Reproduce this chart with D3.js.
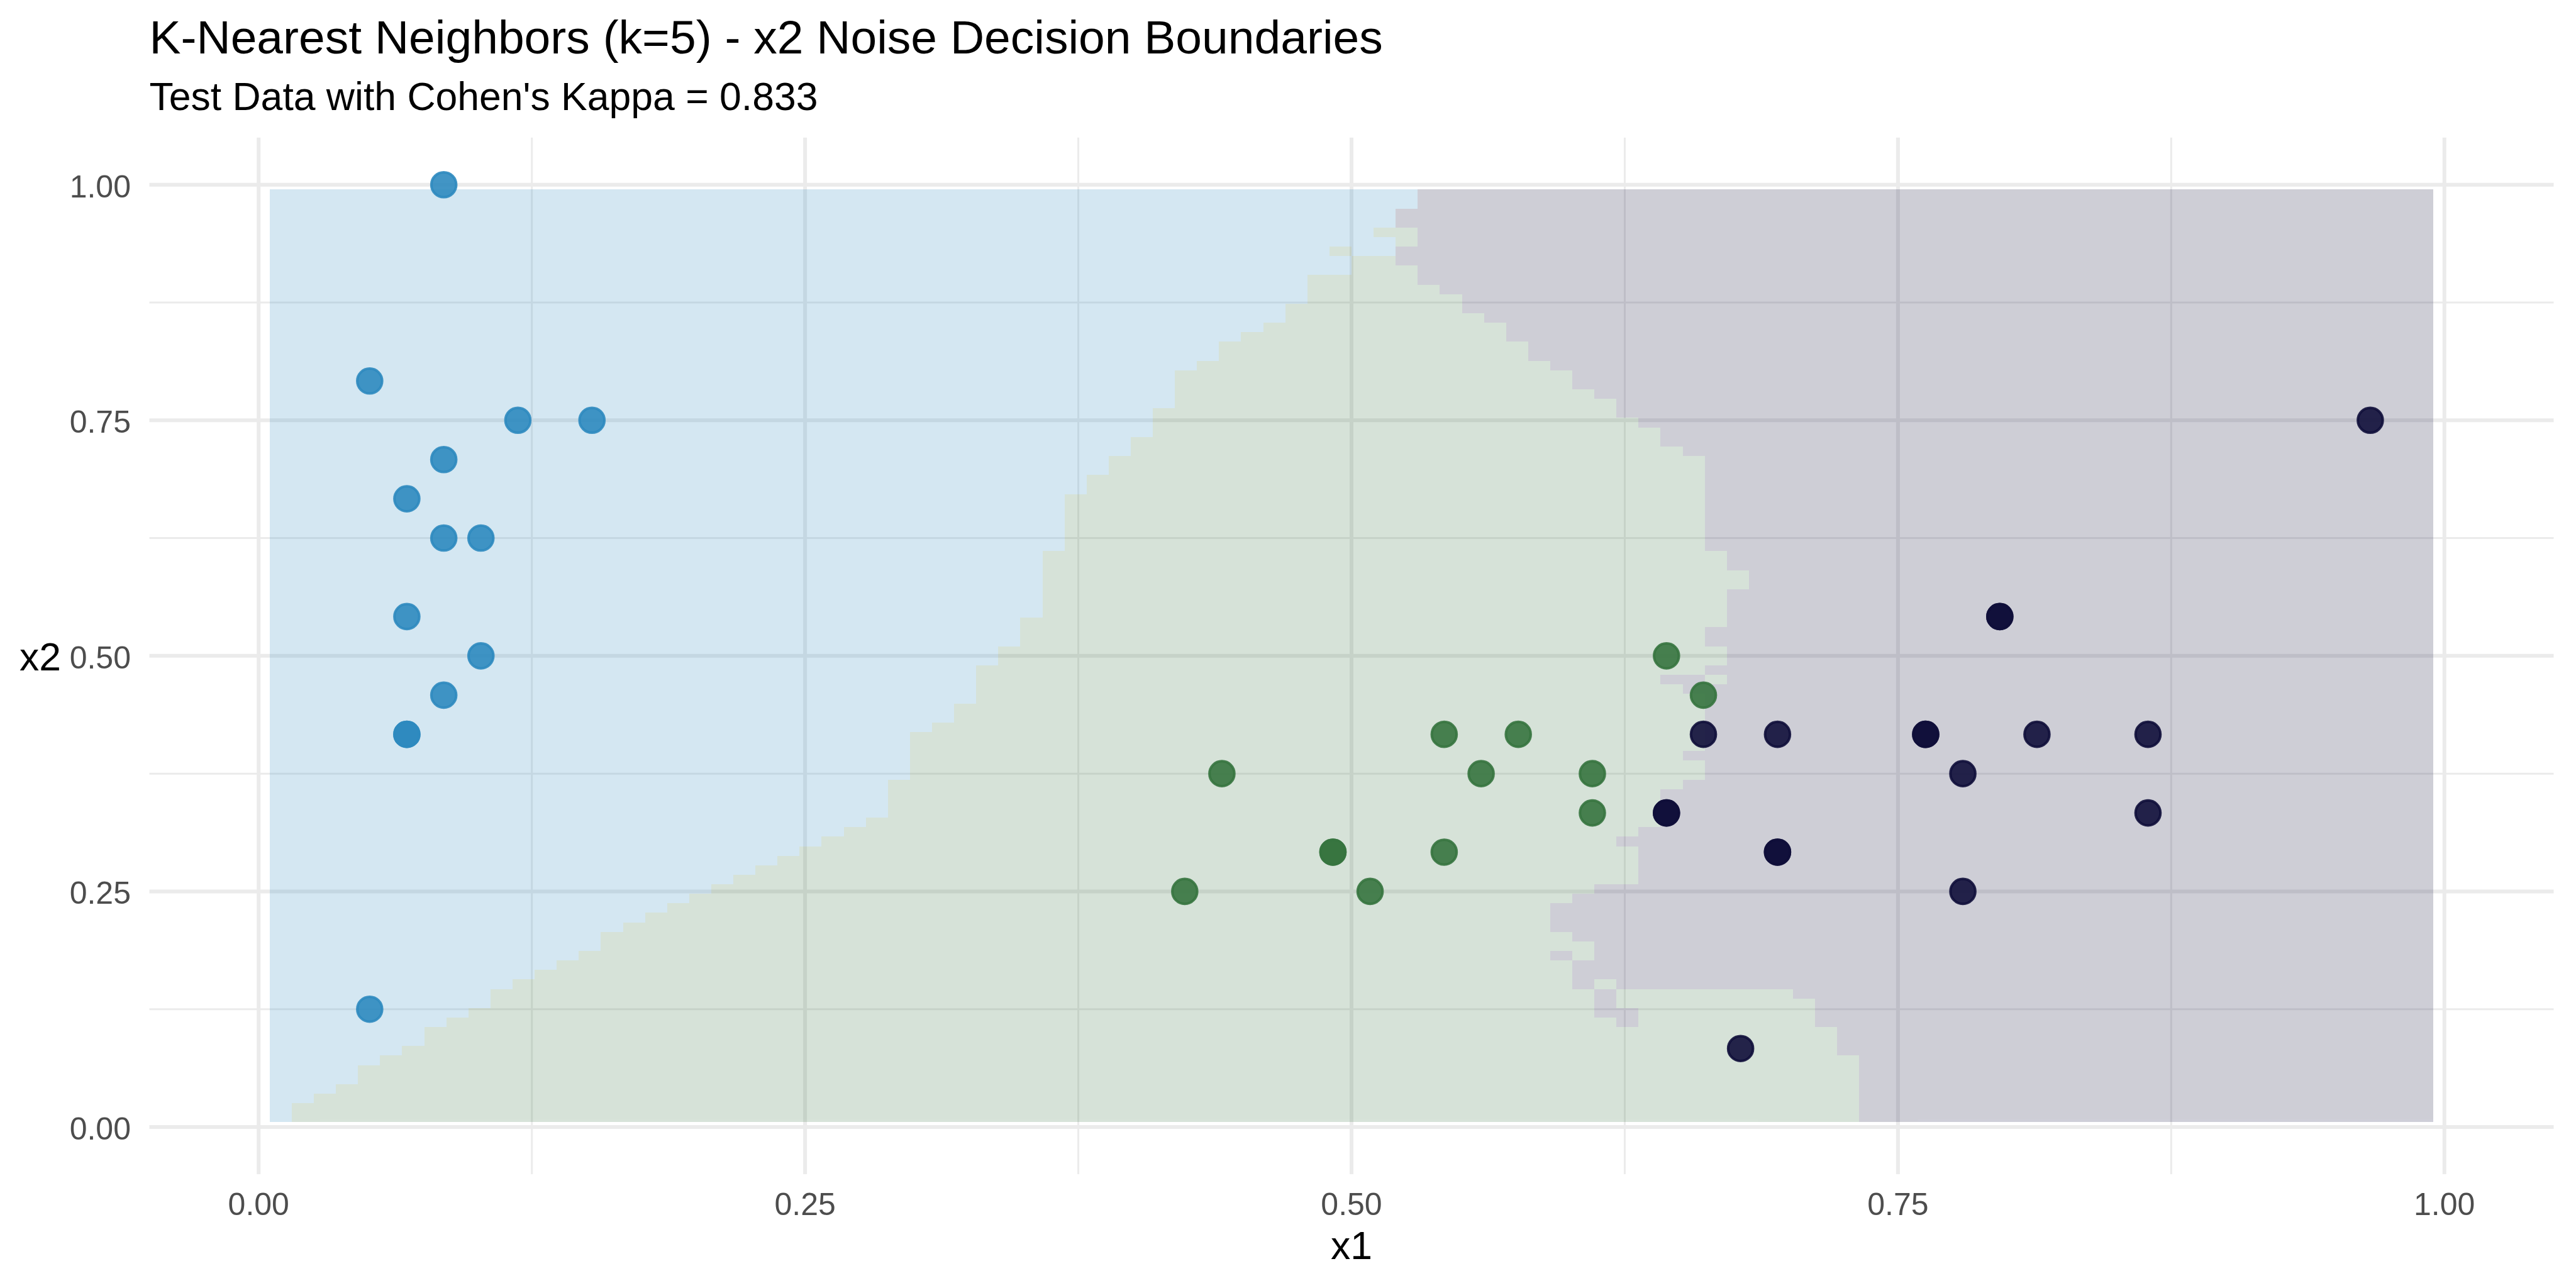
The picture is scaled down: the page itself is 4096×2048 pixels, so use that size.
<!DOCTYPE html>
<html><head><meta charset="utf-8">
<script src="https://cdn.jsdelivr.net/npm/d3@7"></script>
<style>html,body{margin:0;padding:0;background:#fff;} svg{display:block;}</style>
</head><body>
<svg id="chart" width="4096" height="2048"></svg>
<script>
// ---------- text ----------
const titleText = "K-Nearest Neighbors (k=5) - x2 Noise Decision Boundaries";
const subtitleText = "Test Data with Cohen's Kappa = 0.833";
const xAxisTitle = "x1";
const yAxisTitle = "x2";

// ---------- axes ----------
const majorTicks = [0, 0.25, 0.5, 0.75, 1];
const majorTickLabels = ["0.00", "0.25", "0.50", "0.75", "1.00"];
const minorTicks = [0.125, 0.375, 0.625, 0.875];

// ---------- classes ----------
const classCodes = ["b", "g", "p"];
const classColors = ["#2E8ABF", "#36743F", "#0F0E3A"];

// ---------- decision-boundary grid (98 x 98 cells, spacing 1/99) ----------
// one string per grid row, bottom row first; runs of cells left to right: class code + cell count
const cellSize = 1 / 99;
const tileRows = [
  "b1 g71 p26", "b1 g71 p26", "b2 g70 p26", "b3 g69 p26", "b4 g68 p26",
  "b4 g68 p26", "b5 g67 p26", "b6 g65 p27", "b7 g64 p27", "b7 g64 p27",
  "b8 g53 p1 g8 p28", "b9 g51 p2 g8 p28", "b10 g50 p1 g9 p28", "b10 g50 p1 g8 p29", "b11 g48 p1 g1 p37",
  "b12 g47 p39", "b13 g46 p39", "b14 g44 p1 g1 p38", "b15 g45 p38", "b15 g44 p39",
  "b16 g42 p40", "b17 g41 p40", "b18 g40 p40", "b19 g40 p39", "b20 g40 p38",
  "b21 g41 p36", "b22 g40 p36", "b23 g39 p36", "b24 g38 p36", "b25 g36 p37",
  "b26 g36 p36", "b27 g36 p35", "b28 g35 p35", "b28 g35 p35", "b28 g35 p35",
  "b28 g36 p34", "b29 g36 p33", "b29 g36 p33", "b29 g35 p34", "b29 g36 p33",
  "b29 g36 p33", "b30 g35 p33", "b31 g34 p33", "b31 g34 p33", "b32 g33 p33",
  "b32 g32 p34", "b32 g31 p2 g1 p32", "b32 g33 p33", "b33 g33 p32", "b33 g33 p32",
  "b34 g31 p33", "b34 g31 p33", "b34 g32 p32", "b35 g31 p32", "b35 g31 p32",
  "b35 g31 p32", "b35 g32 p31", "b35 g32 p31", "b35 g31 p32", "b35 g31 p32",
  "b36 g29 p33", "b36 g29 p33", "b36 g29 p33", "b36 g29 p33", "b36 g29 p33",
  "b36 g29 p33", "b37 g28 p33", "b37 g28 p33", "b38 g27 p33", "b38 g27 p33",
  "b39 g25 p34", "b39 g24 p35", "b40 g23 p35", "b40 g22 p36", "b40 g21 p37",
  "b41 g20 p37", "b41 g19 p38", "b41 g18 p39", "b41 g18 p39", "b42 g16 p40",
  "b43 g14 p41", "b43 g14 p41", "b44 g12 p42", "b45 g11 p42", "b46 g9 p43",
  "b46 g8 p44", "b47 g7 p44", "b47 g6 p45", "b47 g5 p46", "b49 g3 p46",
  "b49 g2 p47", "b48 g1 b2 p47", "b51 g1 p46", "b50 g2 p46", "b51 p47",
  "b51 p47", "b52 p46", "b52 p46"
];

// ---------- test points ----------
const pointX = [
  0.0847, 0.0508, 0.1186, 0.1525, 0.0847, 0.0678, 0.0847, 0.1017, 0.0678, 0.1017, 0.0847, 0.0678, 0.0678, 0.0508,
  0.6441, 0.6610, 0.5424, 0.5763, 0.4407, 0.5593, 0.6102, 0.6102, 0.4915, 0.4915, 0.5424, 0.4237, 0.5085,
  0.7966, 0.7966, 0.6610, 0.6949, 0.7627, 0.7627, 0.8136, 0.8644, 0.7797, 0.6441, 0.6441, 0.8644, 0.6949, 0.6949, 0.7797, 0.6780, 0.9661
];
const pointY = [
  1.0000, 0.7917, 0.7500, 0.7500, 0.7083, 0.6667, 0.6250, 0.6250, 0.5417, 0.5000, 0.4583, 0.4167, 0.4167, 0.1250,
  0.5000, 0.4583, 0.4167, 0.4167, 0.3750, 0.3750, 0.3750, 0.3333, 0.2917, 0.2917, 0.2917, 0.2500, 0.2500,
  0.5417, 0.5417, 0.4167, 0.4167, 0.4167, 0.4167, 0.4167, 0.4167, 0.3750, 0.3333, 0.3333, 0.3333, 0.2917, 0.2917, 0.2500, 0.0833, 0.7500
];
const pointClass = [
  "b","b","b","b","b","b","b","b","b","b","b","b","b","b",
  "g","g","g","g","g","g","g","g","g","g","g","g","g",
  "p","p","p","p","p","p","p","p","p","p","p","p","p","p","p","p","p"
];

// ---------- drawing ----------
const color = d3.scaleOrdinal().domain(classCodes).range(classColors);
const svg = d3.select("#chart");
const FONT = "'Liberation Sans', Arial, Helvetica, sans-serif";

const x = d3.scaleLinear().domain([-0.05, 1.05]).range([237.5, 4060.5]);
const y = d3.scaleLinear().domain([-0.05, 1.05]).range([1866.9, 218.8]);

svg.append("rect").attr("width", 4096).attr("height", 2048).attr("fill", "#ffffff");

// grid lines
const grid = svg.append("g").attr("stroke", "#EBEBEB").attr("fill", "none");
grid.selectAll("line.vmin").data(minorTicks).join("line")
  .attr("x1", d => x(d)).attr("x2", d => x(d)).attr("y1", y(-0.05)).attr("y2", y(1.05)).attr("stroke-width", 3);
grid.selectAll("line.hmin").data(minorTicks).join("line")
  .attr("y1", d => y(d)).attr("y2", d => y(d)).attr("x1", x(-0.05)).attr("x2", x(1.05)).attr("stroke-width", 3);
grid.selectAll("line.vmaj").data(majorTicks).join("line")
  .attr("x1", d => x(d)).attr("x2", d => x(d)).attr("y1", y(-0.05)).attr("y2", y(1.05)).attr("stroke-width", 6);
grid.selectAll("line.hmaj").data(majorTicks).join("line")
  .attr("y1", d => y(d)).attr("y2", d => y(d)).attr("x1", x(-0.05)).attr("x2", x(1.05)).attr("stroke-width", 6);

// decision tiles
const tiles = [];
tileRows.forEach((row, i) => {
  const j = i + 1;
  let col = 1;
  row.split(" ").forEach(tok => {
    const cls = tok[0], n = +tok.slice(1);
    tiles.push({cls, x0: (col - 0.5) * cellSize, x1: (col + n - 0.5) * cellSize,
                y0: (j - 0.5) * cellSize, y1: (j + 0.5) * cellSize});
    col += n;
  });
  if (col !== 99) console.warn("row", j, "sums to", col - 1);
});
svg.append("g").attr("opacity", 0.2)
  .selectAll("rect").data(tiles).join("rect")
  .attr("shape-rendering", "crispEdges")
  .attr("x", d => x(d.x0)).attr("y", d => y(d.y1))
  .attr("width", d => x(d.x1) - x(d.x0)).attr("height", d => y(d.y0) - y(d.y1))
  .attr("fill", d => color(d.cls));

// points
const points = pointX.map((v, i) => ({x: v, y: pointY[i], c: pointClass[i]}));
svg.append("g").selectAll("circle").data(points).join("circle")
  .attr("cx", d => x(d.x)).attr("cy", d => y(d.y)).attr("r", 19.8)
  .attr("fill", d => color(d.c)).attr("fill-opacity", 0.9)
  .attr("stroke", d => color(d.c)).attr("stroke-opacity", 0.9).attr("stroke-width", 4);

// tick labels
svg.append("g").selectAll("text").data(majorTicks).join("text")
  .attr("x", d => x(d)).attr("y", 1932).attr("text-anchor", "middle")
  .attr("font-family", FONT).attr("font-size", 50).attr("fill", "#4D4D4D")
  .text((d, i) => majorTickLabels[i]);
svg.append("g").selectAll("text").data(majorTicks).join("text")
  .attr("x", 208).attr("y", d => y(d) + 20).attr("text-anchor", "end")
  .attr("font-family", FONT).attr("font-size", 50).attr("fill", "#4D4D4D")
  .text((d, i) => majorTickLabels[i]);

// axis titles
svg.append("text").attr("x", (x(-0.05) + x(1.05)) / 2).attr("y", 2002).attr("text-anchor", "middle")
  .attr("font-family", FONT).attr("font-size", 62.5).attr("fill", "#000").text(xAxisTitle);
svg.append("text").attr("x", 31).attr("y", (y(-0.05) + y(1.05)) / 2 + 23).attr("text-anchor", "start")
  .attr("font-family", FONT).attr("font-size", 62.5).attr("fill", "#000").text(yAxisTitle);

// title & subtitle
svg.append("text").attr("x", 237.5).attr("y", 85)
  .attr("font-family", FONT).attr("font-size", 75).attr("fill", "#000").text(titleText);
svg.append("text").attr("x", 237.5).attr("y", 175)
  .attr("font-family", FONT).attr("font-size", 62.5).attr("fill", "#000").text(subtitleText);
</script>
</body></html>
